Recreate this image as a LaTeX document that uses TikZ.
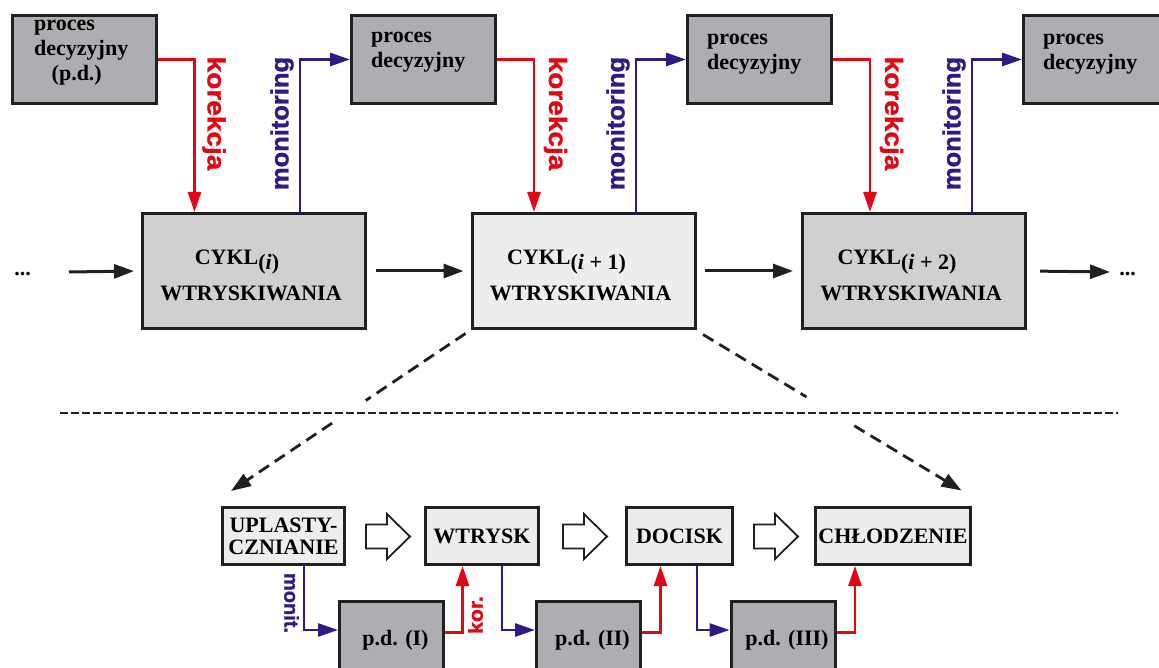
\documentclass[tikz,border=0pt]{standalone}
\usepackage{fontspec}
\setmainfont{Liberation Serif}
\newfontfamily\sansfnt{Liberation Sans}[UprightFeatures={FakeBold=1.2}, BoldFeatures={FakeBold=1.2}]
\usetikzlibrary{arrows.meta,calc}
\definecolor{bord}{HTML}{231F20}
\definecolor{pdgray}{HTML}{ADAEB1}
\definecolor{cykgray}{HTML}{CFD0D2}
\definecolor{lightg}{HTML}{ECEDEC}
\definecolor{kred}{HTML}{E30613}
\definecolor{mblue}{HTML}{2E1B86}
\newcommand{\bfnt}{\fontsize{22}{22}\selectfont\bfseries}
\newcommand{\sfnt}[1]{\fontsize{#1}{#1}\selectfont\sansfnt\bfseries}
\begin{document}
\begin{tikzpicture}[x=1pt,y=-1pt,
  pdbox/.style={draw=bord, fill=pdgray, line width=3pt, rectangle, minimum width=144pt, minimum height=88pt, inner sep=0pt},
  cykbox/.style={draw=bord, line width=3pt, rectangle, minimum width=223pt, minimum height=115pt, inner sep=0pt},
  phbox/.style={draw=bord, fill=lightg, line width=3pt, rectangle, minimum height=57pt, inner sep=0pt, font=\bfnt, align=center},
  pdsmall/.style={draw=bord, fill=pdgray, line width=3pt, rectangle, minimum width=104pt, minimum height=100pt, inner sep=0pt},
  lbl/.style={font=\bfnt, inner sep=0pt, anchor=base west},
  clbl/.style={font=\bfnt, inner sep=0pt, anchor=base},
  flow/.style={draw=bord, line width=3pt, -{Triangle[length=20pt,width=14pt]}},
  kor/.style={draw=kred, line width=2.7pt, -{Triangle[length=20pt,width=13pt]}},
  mon/.style={draw=mblue, line width=2.7pt, -{Triangle[length=20pt,width=13pt]}},
  korlbl/.style={text=kred, inner sep=0pt, rotate=-90},
  monlbl/.style={text=mblue, inner sep=0pt, rotate=90},
  diag/.style={draw=bord, line width=2.8pt, dash pattern=on 12pt off 7pt},
  diagarr/.style={diag, -{Triangle[length=20pt,width=14pt]}},
  sepline/.style={draw=bord, line width=1.5pt, dash pattern=on 7.5pt off 3.5pt},
  blk/.style={draw=bord, fill=white, line width=1.8pt, line join=miter},
  blockarr/.pic={\draw[blk] (0,-12) -- (21,-12) -- (21,-22.5) -- (44,0) -- (21,22.5) -- (21,12) -- (0,12) -- cycle;}
]
\useasboundingbox (0,0) rectangle (1159,668);
\clip (0,0) rectangle (1159,668);

% ---- top decision boxes
\node[pdbox] (p1) at (84.5,59.5) {};
\node[pdbox] (p2) at (423.5,59.5) {};
\node[pdbox] (p3) at (759.5,59.5) {};
\node[pdbox] (p4) at (1095.5,59.5) {};
\node[lbl] (p1a) at ($(p1.north west)+(23,17)$) {proces};
\node[lbl] (p1b) at ($(p1.north west)+(23,42)$) {decyzyjny};
\node[lbl] (p1c) at ($(p1.north west)+(40.5,67)$) {(p.d.)};
\node[lbl] (p2a) at ($(p2.north west)+(21,29)$) {proces};
\node[lbl] (p2b) at ($(p2.north west)+(21,54)$) {decyzyjny};
\node[lbl] (p3a) at ($(p3.north west)+(21,30.5)$) {proces};
\node[lbl] (p3b) at ($(p3.north west)+(21,55.5)$) {decyzyjny};
\node[lbl] (p4a) at ($(p4.north west)+(21,30.5)$) {proces};
\node[lbl] (p4b) at ($(p4.north west)+(21,55.5)$) {decyzyjny};

% ---- cycle boxes
\node[cykbox, fill=cykgray] (A) at (254,271) {};
\node[cykbox, fill=lightg] (B) at (583.5,271) {};
\node[cykbox, fill=cykgray] (C) at (914,271) {};
\node[clbl] (A1) at ($(A.center)+(-17,-6)$) {CYKL\raisebox{-5pt}{(\textit{i})}};
\node[clbl] (A2) at ($(A.center)+(-3,30)$) {WTRYSKIWANIA};
\node[clbl] (B1) at ($(B.center)+(-17,-6)$) {CYKL\raisebox{-5pt}{(\textit{i} + 1)}};
\node[clbl] (B2) at ($(B.center)+(-3,30)$) {WTRYSKIWANIA};
\node[clbl] (C1) at ($(C.center)+(-17,-6)$) {CYKL\raisebox{-5pt}{(\textit{i} + 2)}};
\node[clbl] (C2) at ($(C.center)+(-3,30)$) {WTRYSKIWANIA};

% ---- main flow
\node[clbl] (dl) at (22.5,276) {...};
\node[clbl] (dr) at (1127.5,276) {...};
\coordinate (lin) at (69,272);
\coordinate (rout) at (1110,272);
\draw[flow, shorten >=7pt] (lin) -- (A.west);
\draw[flow, shorten <=9pt, shorten >=7pt] (A.east) -- (B.west);
\draw[flow, shorten <=8pt, shorten >=8pt] (B.east) -- (C.west);
\draw[flow, shorten <=13pt] (C.east) -- (rout);

% ---- korekcja / monitoring
\coordinate (k1) at ($(p1.east)+(36.5,0)$);
\coordinate (k2) at ($(p2.east)+(37,0)$);
\coordinate (k3) at ($(p3.east)+(37,0)$);
\draw[kor] (p1.east) -- (k1) -- (k1 |- A.north);
\draw[kor] (p2.east) -- (k2) -- (k2 |- B.north);
\draw[kor] (p3.east) -- (k3) -- (k3 |- C.north);
\coordinate (m1) at ($(p2.west)+(-50,0)$);
\coordinate (m2) at ($(p3.west)+(-50,0)$);
\coordinate (m3) at ($(p4.west)+(-50,0)$);
\draw[mon] (m1 |- A.north) -- (m1) -- (p2.west);
\draw[mon] (m2 |- B.north) -- (m2) -- (p3.west);
\draw[mon] (m3 |- C.north) -- (m3) -- (p4.west);
\node[korlbl] (kl1) at ($(k1)+(19.5,54)$) {\sfnt{25}\scalebox{1.12}[1]{korekcja}};
\node[korlbl] (kl2) at ($(k2)+(21.5,54)$) {\sfnt{25}\scalebox{1.12}[1]{korekcja}};
\node[korlbl] (kl3) at ($(k3)+(21.5,54)$) {\sfnt{25}\scalebox{1.12}[1]{korekcja}};
\node[monlbl] (ml1) at ($(m1)+(-18,64)$) {\sfnt{25}\scalebox{1.02}[1]{monitoring}};
\node[monlbl] (ml2) at ($(m2)+(-18,64)$) {\sfnt{25}\scalebox{1.02}[1]{monitoring}};
\node[monlbl] (ml3) at ($(m3)+(-18,64)$) {\sfnt{25}\scalebox{1.02}[1]{monitoring}};

% ---- separator
\coordinate (s1) at (60,413);
\coordinate (s2) at (1118,413);
\draw[sepline] (s1) -- (s2);

% ---- phase boxes
\node[phbox, minimum width=122pt] (u) at (283.5,536) {UPLASTY-\\CZNIANIE};
\node[phbox, minimum width=113pt] (w) at (482,536) {WTRYSK};
\node[phbox, minimum width=106pt] (d) at (679.5,536) {DOCISK};
\node[phbox, minimum width=155pt] (c) at (893,536) {CHŁODZENIE};
\pic (ba1) at (366,536.5) {blockarr};
\pic (ba2) at (563,536.5) {blockarr};
\pic (ba3) at (754,536.5) {blockarr};

% ---- diagonal zoom arrows
\coordinate (d1) at ($(B.south west)+(-5,3.5)$);
\coordinate (t1) at ($(u.north west)+(10,-15)$);
\draw[diag] (d1) -- ($(d1)!0.425!(t1)$);
\draw[diagarr] ($(d1)!0.569!(t1)$) -- (t1);
\coordinate (d2) at ($(B.south east)+(6.5,4.5)$);
\coordinate (t2) at ($(c.north east)+(-10.5,-15.5)$);
\draw[diag] (d2) -- ($(d2)!0.40!(t2)$);
\draw[diagarr] ($(d2)!0.585!(t2)$) -- (t2);

% ---- small decision boxes
\node[pdsmall] (q1) at (391.5,651.5) {};
\node[pdsmall] (q2) at (588.5,651.5) {};
\node[pdsmall] (q3) at (783,651.5) {};
\node[clbl] (q1t) at ($(q1.north)+(4,45.5)$) {p.d. (I)};
\node[clbl] (q2t) at ($(q2.north)+(4,45.5)$) {p.d. (II)};
\node[clbl] (q3t) at ($(q3.north)+(4,45.5)$) {p.d. (III)};

\draw[mon] ($(u.south)+(20.5,0)$) |- ($(q1.north west)+(0,30)$);
\draw[mon] ($(w.south)+(20,0)$) |- ($(q2.north west)+(0,30)$);
\draw[mon] ($(d.south)+(17.5,0)$) |- ($(q3.north west)+(0,30)$);
\coordinate (r1) at ($(q1.north east)+(17.5,32.5)$);
\coordinate (r2) at ($(q2.north east)+(18.5,32.5)$);
\coordinate (r3) at ($(q3.north east)+(18.5,32.5)$);
\draw[kor] ($(q1.north east)+(0,32.5)$) -- (r1) -- (r1 |- w.south);
\draw[kor] ($(q2.north east)+(0,32.5)$) -- (r2) -- (r2 |- d.south);
\draw[kor] ($(q3.north east)+(0,32.5)$) -- (r3) -- (r3 |- c.south);
\node[korlbl, rotate=180] (kb) at (475.5,615) {\sfnt{20}\scalebox{1.06}[1]{kor.}};
\node[monlbl, rotate=180] (mb) at (291.5,603) {\sfnt{20}\scalebox{1.0}[1]{monit.}};
\end{tikzpicture}
\end{document}
